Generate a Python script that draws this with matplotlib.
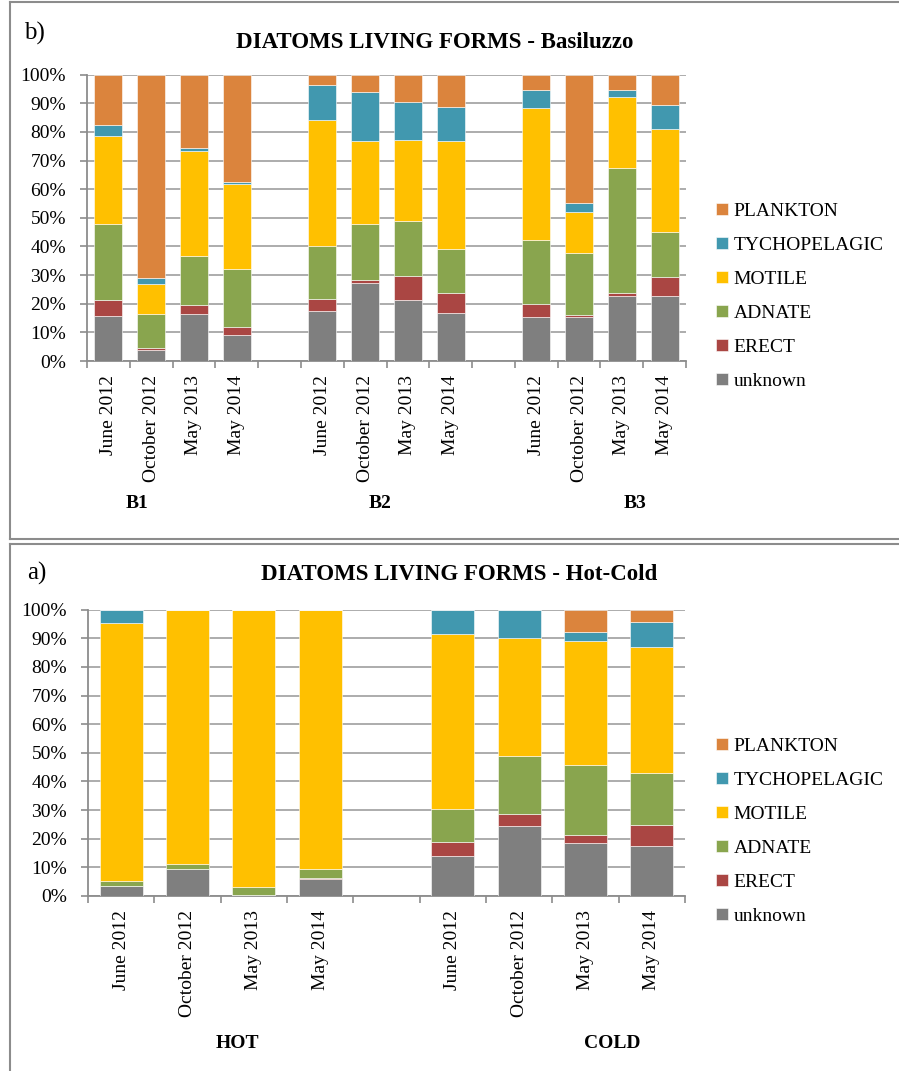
import matplotlib
matplotlib.use("Agg")
import matplotlib.pyplot as plt
import numpy as np

plt.rcParams['font.family'] = ['Liberation Serif', 'DejaVu Serif']

series = ["unknown", "ERECT", "ADNATE", "MOTILE", "TYCHOPELAGIC", "PLANKTON"]
colors = ["#7F7F7F", "#AA4643", "#89A54E", "#FFC000", "#4198AF", "#DB843D"]
dates = ["June 2012", "October 2012", "May 2013", "May 2014"]

# Panel b) Basiluzzo : B1, B2, B3 x 4 dates
groups_b = ["B1", "B2", "B3"]
b_unknown = [15.8, 4.0, 16.3, 9.0, 17.5, 27.2, 21.2, 16.9, 15.3, 15.4, 22.8, 22.8]
b_erect = [5.4, 0.4, 3.1, 3.0, 4.2, 1.0, 8.5, 6.8, 4.7, 0.8, 1.1, 6.4]
b_adnate = [26.5, 11.9, 17.2, 20.2, 18.6, 19.5, 19.1, 15.5, 22.4, 21.4, 43.6, 16.0]
b_motile = [31.0, 10.7, 36.9, 29.5, 43.8, 29.0, 28.4, 37.5, 46.0, 14.4, 24.6, 35.7]
b_tycho = [3.7, 2.1, 1.0, 0.9, 12.2, 17.4, 13.3, 12.1, 6.4, 3.3, 2.7, 8.4]
b_plankton = [17.6, 70.9, 25.5, 37.4, 3.7, 5.9, 9.5, 11.2, 5.2, 44.7, 5.2, 10.7]

# Panel a) Hot-Cold : HOT, COLD x 4 dates
groups_a = ["HOT", "COLD"]
a_unknown = [3.5, 9.5, 0.3, 5.8, 13.9, 24.4, 18.6, 17.5]
a_erect = [0.0, 0.0, 0.0, 0.5, 5.1, 4.4, 2.6, 7.4]
a_adnate = [1.7, 1.6, 2.7, 3.1, 11.3, 20.1, 24.6, 18.2]
a_motile = [90.1, 88.9, 97.0, 90.6, 61.3, 41.1, 43.3, 43.7]
a_tycho = [4.7, 0.0, 0.0, 0.0, 8.4, 10.0, 3.1, 9.0]
a_plankton = [0.0, 0.0, 0.0, 0.0, 0.0, 0.0, 7.8, 4.2]

W, H = 899, 1071
fig = plt.figure(figsize=(W / 100, H / 100), dpi=100)

def fx(px):
    return px / W

def fy(py):
    return 1 - py / H

# panel borders
border_c = "#8C8C8C"
fig.add_artist(plt.Line2D([fx(9.5), fx(9.5)], [fy(1.5), fy(539)], color=border_c, lw=1.5))
fig.add_artist(plt.Line2D([fx(9.5), 1.0], [fy(1.5), fy(1.5)], color=border_c, lw=1.5))
fig.add_artist(plt.Line2D([fx(9.5), 1.0], [fy(539), fy(539)], color=border_c, lw=1.5))
fig.add_artist(plt.Line2D([fx(9.5), fx(9.5)], [fy(544), 0.0], color=border_c, lw=1.5))
fig.add_artist(plt.Line2D([fx(9.5), 1.0], [fy(544), fy(544)], color=border_c, lw=1.5))


def draw_panel(rect, groups, data, title, letter, title_xy, letter_xy,
               group_xy, legend_top):
    ax = fig.add_axes(rect)
    n_per = len(dates)
    pos = []
    for gi in range(len(groups)):
        pos += [gi * (n_per + 1) + k for k in range(n_per)]
    pos = np.array(pos, dtype=float)
    ncat = len(groups) * (n_per + 1) - 1
    bottom = np.zeros(len(pos))
    handles = []
    for name, vals, c in zip(series, data, colors):
        v = np.array(vals)
        h = ax.bar(pos, v, 0.65, bottom=bottom, color=c, edgecolor="white",
                   linewidth=0.4, label=name, zorder=3)
        handles.append(h)
        bottom += v
    ax.set_xlim(-0.5, ncat - 0.5)
    ax.set_ylim(0, 100)
    ax.set_yticks(np.arange(0, 101, 10))
    ax.set_yticklabels([f"{t}%" for t in range(0, 101, 10)], fontsize=14)
    ax.yaxis.grid(True, color="#A6A6A6", lw=1.3, zorder=0)
    ax.set_axisbelow(True)
    ax.set_xticks(np.arange(-0.5, ncat, 1.0))
    ax.set_xticklabels([])
    ax.set_xticks(pos, minor=True)
    ax.set_xticklabels(dates * len(groups), minor=True, rotation=90,
                       fontsize=14, va="top")
    ax.tick_params(axis="x", which="major", length=5, color="#8C8C8C", width=1.2)
    ax.tick_params(axis="x", which="minor", length=0, pad=10)
    ax.tick_params(axis="y", length=5, color="#8C8C8C", width=1.2, pad=10)
    for s in ["top", "right"]:
        ax.spines[s].set_visible(False)
    for s in ["left", "bottom"]:
        ax.spines[s].set_color("#8C8C8C")
        ax.spines[s].set_linewidth(1.3)
    fig.text(fx(title_xy[0]), fy(title_xy[1]), title, ha="center", va="center",
             fontsize=16.5, fontweight="bold")
    fig.text(fx(letter_xy[0]), fy(letter_xy[1]), letter, ha="left", va="center",
             fontsize=18)
    for g, (gx, gy) in zip(groups, group_xy):
        fig.text(fx(gx), fy(gy), g, ha="center", va="center", fontsize=14,
                 fontweight="bold")
    fig.legend(handles[::-1], series[::-1], loc="upper left",
               bbox_to_anchor=(fx(716), fy(legend_top)), frameon=False,
               fontsize=14, borderpad=0, borderaxespad=0, labelspacing=0.87,
               handlelength=0.6, handleheight=0.6, handletextpad=0.3)
    return ax


top_rect = [fx(87), fy(361), fx(686) - fx(87), fy(74.7) - fy(361)]
draw_panel(top_rect, groups_b,
           [b_unknown, b_erect, b_adnate, b_motile, b_tycho, b_plankton],
           "DIATOMS LIVING FORMS - Basiluzzo", "b)", (435, 42), (24, 33),
           [(137, 503), (380, 503), (635, 503)], 203)

bot_rect = [fx(88), fy(896), fx(685) - fx(88), fy(609.7) - fy(896)]
draw_panel(bot_rect, groups_a,
           [a_unknown, a_erect, a_adnate, a_motile, a_tycho, a_plankton],
           "DIATOMS LIVING FORMS - Hot-Cold", "a)", (459, 575), (27, 573),
           [(237, 1043), (612, 1043)], 738)

fig.savefig("out.png", dpi=100)
